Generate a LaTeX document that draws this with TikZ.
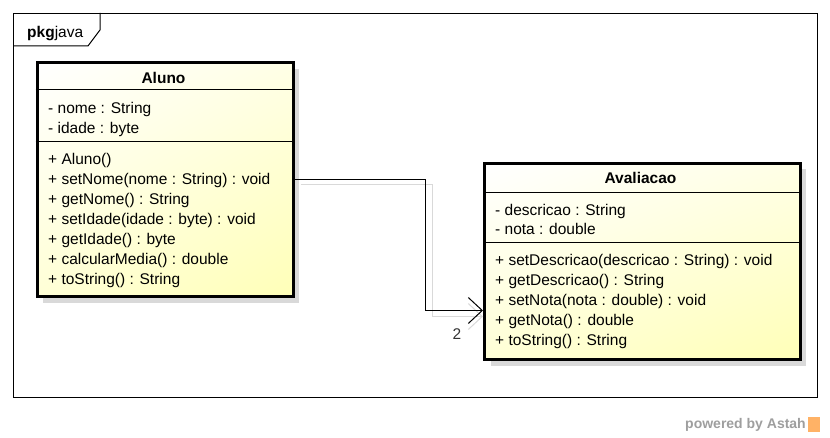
\documentclass[tikz,border=0pt]{standalone}
\usepackage{fontspec}
\setmainfont{Liberation Sans}
\usetikzlibrary{shadows,shadings,arrows.meta}
\newcommand{\membersize}{\fontsize{15.5}{18}\selectfont}
\newcommand{\poweredsize}{\fontsize{14}{16}\selectfont}
\tikzstyle{pkgframe}=[draw,line width=1pt,anchor=north west,inner sep=0pt,minimum width=804,minimum height=384]
\tikzstyle{classbox}=[draw,line width=3pt,anchor=north west,inner sep=0pt,shade,upper left=white,upper right=yellow!10,lower left=yellow!16,lower right=yellow!28,drop shadow={shadow xshift=6pt,shadow yshift=-6pt,fill=black!15,opacity=1}]
\tikzstyle{member}=[anchor=west,inner sep=0pt,text height=11pt,text depth=3.5pt,font=\membersize]
\tikzstyle{classname}=[inner sep=0pt,text height=11pt,text depth=3.5pt,font=\membersize\bfseries]
\tikzstyle{divider}=[line width=1pt]
\tikzstyle{assoc}=[line width=1pt,-{Straight Barb[length=14pt,width=26pt,line width=1pt]}]
\tikzstyle{assocshadow}=[line width=1pt,black!15,-{Straight Barb[length=14pt,width=26pt,line width=1pt]}]
\newcommand{\classdivider}[2]{% box name, y
\draw[divider] (#1.west |- 0,#2) -- (#1.east |- 0,#2);
}
\begin{document}
\begin{tikzpicture}[x=1pt,y=-1pt]
\useasboundingbox (0,0) rectangle (830,438);
% package frame with its tab
\node[pkgframe] (pkg) at (13,13) {};
\draw[line width=1pt] (pkg.north west |- 0,46) -- (88,46) -- (100,30) -- (100,13);
\node[member] (pkglabel) at (27,34) {\textbf{pkg}java};

% class Aluno
\node[classbox,minimum width=256,minimum height=234] (aluno) at (35.5,61.5) {};
\node[classname] (alunoname) at (163.5,79.5) {Aluno};
\classdivider{aluno}{89.5}
\classdivider{aluno}{141.5}
\foreach \txt [count=\i] in {- nome : String, - idade : byte}
  \node[member] (alunoattr\i) at (48,90+20*\i) {\txt};
\foreach \txt [count=\i] in {+ Aluno(), + setNome(nome : String) : void, + getNome() : String,
  + setIdade(idade : byte) : void, + getIdade() : byte, + calcularMedia() : double, + toString() : String}
  \node[member] (alunoop\i) at (48,141+20*\i) {\txt};

% class Avaliacao
\node[classbox,minimum width=315.5,minimum height=196] (avaliacao) at (483,162) {};
\node[classname] (avaliacaoname) at (640.5,179.5) {Avaliacao};
\classdivider{avaliacao}{192.5}
\classdivider{avaliacao}{243}
\foreach \txt [count=\i] in {- descricao : String, - nota : double}
  \node[member] (avaliacaoattr\i) at (495,192+19.5*\i) {\txt};
\foreach \txt [count=\i] in {+ setDescricao(descricao : String) : void, + getDescricao() : String,
  + setNota(nota : double) : void, + getNota() : double, + toString() : String}
  \node[member] (avaliacaoop\i) at (495,242+20*\i) {\txt};

% association
\coordinate (elbow) at (425.5,310.5);
\draw[assocshadow] ([xshift=6pt,yshift=-5pt]aluno.east) -| ([xshift=7pt,yshift=-6pt]elbow) -- ([yshift=-6pt]elbow -| avaliacao.west);
\draw[assoc] (aluno.east) -| (elbow) -- (elbow -| avaliacao.west);
\node[member,anchor=center,text=black!80] (mult) at (457,336) {2};

% footer
\node[anchor=east,inner sep=0pt,font=\poweredsize\bfseries,text=black!38] (powered) at (806,425) {powered by Astah};
\fill[orange!60] (808,417) rectangle (820,432);
\end{tikzpicture}
\end{document}
